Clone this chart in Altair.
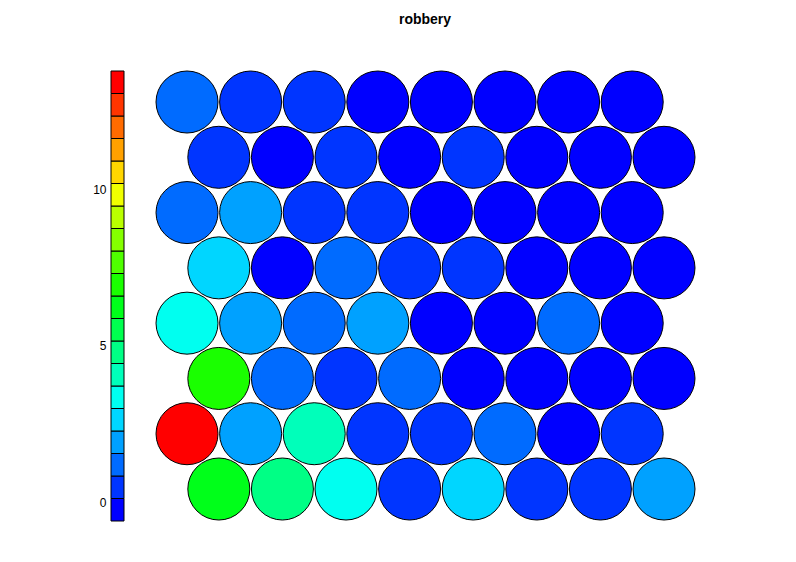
import altair as alt
import pandas as pd

title_text = "robbery"

# SOM unit values, rows listed from bottom (row 1) to top (row 8), columns left to right
row1 = [6.3, 4.9, 3.4, 0.55, 2.7, 0.6, 0.5, 2.0]
row2 = [13.83, 1.9, 4.1, 0.5, 0.6, 1.3, -0.2, 0.45]
row3 = [7.0, 1.2, 0.55, 1.25, -0.1, -0.3, -0.2, -0.35]
row4 = [3.3, 2.0, 1.3, 2.1, -0.2, -0.1, 1.4, -0.3]
row5 = [2.8, -0.25, 1.1, 0.5, 0.6, -0.2, -0.4, -0.3]
row6 = [1.2, 2.0, 0.5, 0.65, -0.1, -0.3, -0.4, -0.45]
row7 = [0.6, -0.3, 0.5, -0.2, 0.45, -0.4, -0.2, -0.53]
row8 = [1.3, 0.6, 0.5, -0.1, -0.3, -0.4, -0.2, -0.5]
rows = [row1, row2, row3, row4, row5, row6, row7, row8]

value_min = -0.53
value_max = 13.83
tick_values = [0, 5, 10]
palette = [
    "#0000FF", "#0035FF", "#006BFF", "#00A1FF", "#00D6FF",
    "#00FFF0", "#00FFBA", "#00FF85", "#00FF4F", "#00FF1A",
    "#1AFF00", "#4FFF00", "#85FF00", "#BAFF00", "#F0FF00",
    "#FFD600", "#FFA100", "#FF6B00", "#FF3500", "#FF0000",
]

# hexagonal grid layout of units
recs = []
for r, vals in enumerate(rows):
    for c, v in enumerate(vals):
        shift = 0.5 if r % 2 == 0 else 0.0
        recs.append({"col": c + 1 + shift, "row": r * (3 ** 0.5) / 2, "value": v})
units = pd.DataFrame(recs)

n_bins = len(palette)
step = (value_max - value_min) / n_bins
bins = pd.DataFrame({
    "lo": [value_min + k * step for k in range(n_bins)],
    "hi": [value_min + (k + 1) * step for k in range(n_bins)],
})
bins["mid"] = (bins["lo"] + bins["hi"]) / 2

color_scale = alt.Scale(type="quantize", domain=[value_min, value_max], range=palette, nice=False)

colorbar = alt.Chart(bins).mark_rect(stroke="black", strokeWidth=1).encode(
    y=alt.Y("lo:Q", scale=alt.Scale(domain=[value_min, value_max], nice=False, zero=False),
            axis=alt.Axis(values=tick_values, ticks=False, domain=False, grid=False, title=None,
                          labelFont="Liberation Sans", labelFontSize=12, labelColor="black",
                          labelPadding=5, labelOffset=-2, format="d")),
    y2="hi:Q",
    color=alt.Color("mid:Q", scale=color_scale, legend=None),
).properties(width=13, height=450)

som = alt.Chart(units).mark_circle(size=3844, stroke="black", strokeWidth=1, opacity=1).encode(
    x=alt.X("col:Q", scale=alt.Scale(domain=[0.418, 9.066], nice=False, zero=False), axis=None),
    y=alt.Y("row:Q", scale=alt.Scale(domain=[-0.501, 6.548], nice=False, zero=False), axis=None),
    color=alt.Color("value:Q", scale=color_scale, legend=None),
).properties(
    width=550, height=450,
    title=alt.TitleParams(title_text, font="Liberation Sans", fontSize=14, fontWeight="bold",
                          anchor="middle", baseline="alphabetic", offset=31, color="black"),
)

chart = alt.hconcat(colorbar, som, spacing=26, bounds="flush").properties(
    padding={"left": 92, "top": 13, "right": 5, "bottom": 5},
    background="white",
).configure_view(stroke=None)

chart.save("out.html", embed_options={"renderer": "svg", "actions": False})
